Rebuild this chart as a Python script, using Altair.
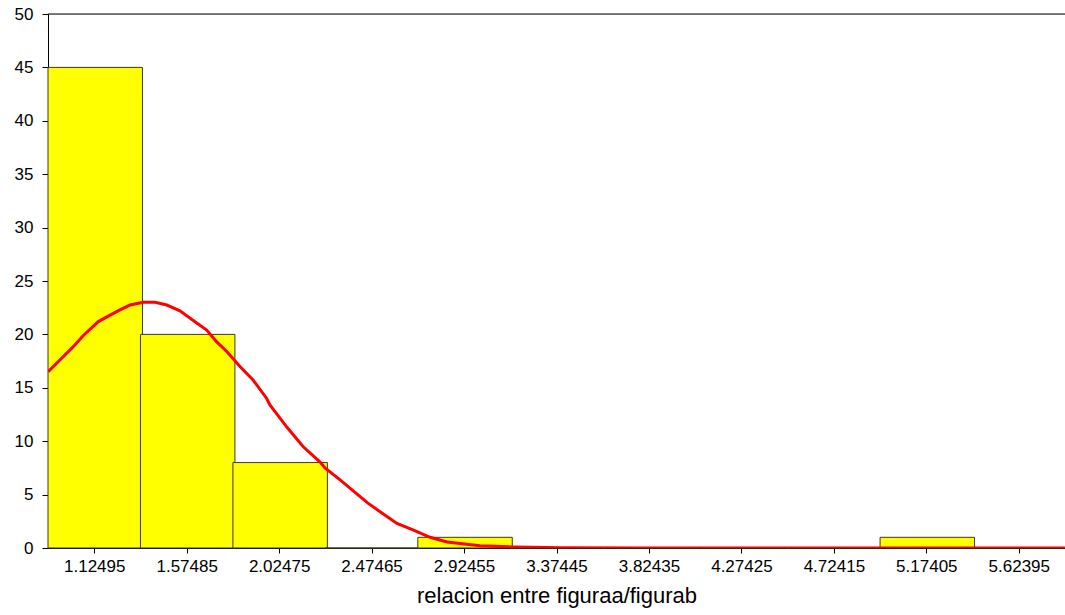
import altair as alt
import pandas as pd

# Histogram bins (centres) and counts
bin_centers = [1.12495, 1.57485, 2.02475, 2.47465, 2.92455, 3.37445,
               3.82435, 4.27425, 4.72415, 5.17405, 5.62395]
tick_labels = ["1.12495", "1.57485", "2.02475", "2.47465", "2.92455", "3.37445",
               "3.82435", "4.27425", "4.72415", "5.17405", "5.62395"]
counts = [45, 20, 8, 0, 1, 0, 0, 0, 0, 1, 0]
bin_width = 0.4499

# Fitted curve
curve_x = [0.901, 0.958, 1.023, 1.072, 1.145, 1.202, 1.250, 1.299, 1.364, 1.421,
           1.478, 1.542, 1.607, 1.672, 1.721, 1.770, 1.834, 1.899, 1.964, 1.980,
           2.063, 2.141, 2.224, 2.248, 2.320, 2.394, 2.457, 2.516, 2.598, 2.676,
           2.759, 2.842, 3.002, 3.163, 3.400, 3.800, 4.400, 5.000, 5.600, 5.848]
curve_y = [16.5, 17.6, 18.85, 19.9, 21.2, 21.8, 22.3, 22.75, 23.0, 23.0,
           22.75, 22.2, 21.3, 20.4, 19.3, 18.4, 17.0, 15.7, 14.0, 13.4,
           11.3, 9.5, 8.05, 7.5, 6.4, 5.2, 4.2, 3.4, 2.3, 1.7,
           1.0, 0.56, 0.2, 0.1, 0.03, 0.0, 0.0, 0.0, 0.0, 0.0]

FONT = "Arial"
x_domain = [bin_centers[0] - bin_width / 2, bin_centers[-1] + bin_width / 2]

bars_df = pd.DataFrame({
    "lo": [c - bin_width / 2 for c in bin_centers],
    "hi": [c + bin_width / 2 for c in bin_centers],
    "count": counts,
    "base": [0] * len(counts),
})
curve_df = pd.DataFrame({"x": curve_x, "y": curve_y})
top_df = pd.DataFrame({"y": [50]})

x_scale = alt.Scale(domain=x_domain, nice=False, zero=False)
y_scale = alt.Scale(domain=[0, 50], nice=False)

bars = alt.Chart(bars_df).mark_bar(
    color="#FFFF00", stroke="#3a3a1a", strokeWidth=1, x2Offset=2
).encode(
    x=alt.X("lo:Q", scale=x_scale,
            axis=alt.Axis(values=bin_centers, labelExpr="format(datum.value, '.5f')",
                          title="relacion entre figuraa/figurab",
                          grid=False, tickSize=5, labelPadding=5,
                          titlePadding=11, domainColor="black", tickColor="black",
                          labelColor="black", titleColor="black",
                          labelFont=FONT, titleFont=FONT, labelFontSize=17,
                          titleFontSize=22, titleFontWeight="normal")),
    x2="hi:Q",
    y=alt.Y("count:Q", scale=y_scale,
            axis=alt.Axis(values=list(range(0, 51, 5)), title=None, grid=False,
                          tickSize=6, labelPadding=9, domainColor="black",
                          tickColor="black", labelColor="black",
                          labelFont=FONT, labelFontSize=17)),
    y2="base:Q",
)

curve = alt.Chart(curve_df).mark_line(
    color="#FF0000", strokeWidth=3, clip=True
).encode(
    x=alt.X("x:Q", scale=x_scale),
    y=alt.Y("y:Q", scale=y_scale),
)

top = alt.Chart(top_df).mark_rule(color="black", strokeWidth=1).encode(
    y=alt.Y("y:Q", scale=y_scale)
)

chart = alt.layer(bars, curve, top).properties(
    width=1017, height=534,
    autosize=alt.AutoSizeParams(type="none"),
    padding={"left": 48, "top": 14, "right": 0, "bottom": 67},
).configure_view(stroke=None).configure(background="white")

chart.save("out.html", embed_options={"renderer": "svg", "actions": False})
